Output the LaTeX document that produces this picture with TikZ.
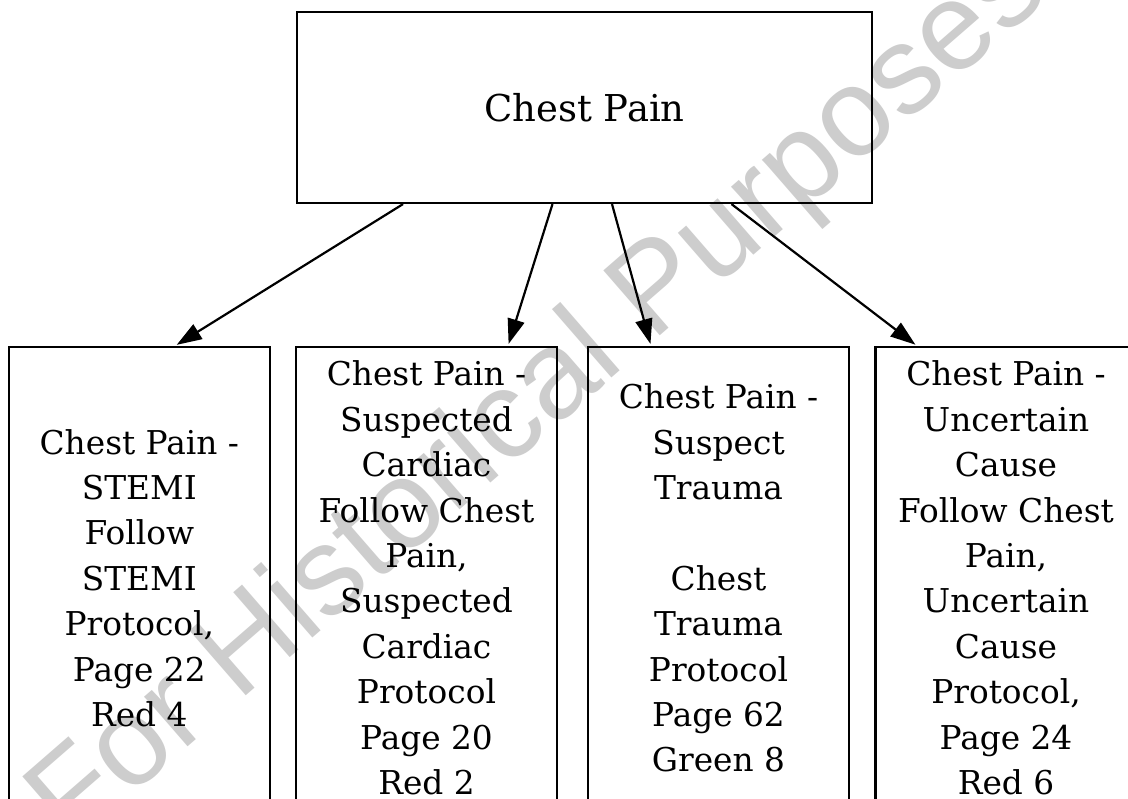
\documentclass[tikz,border=0pt]{standalone}
\usepackage{fontspec}
\setmainfont{DejaVu Serif}
\newfontfamily\wmfont{Liberation Sans}
\usetikzlibrary{arrows.meta,calc}
\definecolor{wmgray}{RGB}{205,205,205}
\tikzset{
  topbox/.style={draw=black, line width=2.2pt, inner sep=0pt, minimum width=575pt, minimum height=191pt, font=\fontsize{37}{44}\selectfont},
  subbox/.style={draw=black, line width=2.2pt, inner sep=0pt, align=center, minimum width=261pt, minimum height=462pt, font=\fontsize{32.8}{45.4}\selectfont},
  link/.style={line width=2.2pt, -{Triangle[length=25pt,width=17pt]}, shorten >=2pt},
  watermark/.style={text=wmgray, font=\wmfont\fontsize{125}{125}\selectfont, rotate=41, inner sep=0pt}
}
\begin{document}
\begin{tikzpicture}[x=1pt,y=-1pt]
\useasboundingbox (0,0) rectangle (1128,799);
\clip (0,0) rectangle (1128,799);
\fill[white] (0,0) rectangle (1128,799);
\node[watermark] (wm) at (540,398) {For Historical Purposes};
\node[topbox] (top) at (584.5,107.5) {Chest Pain};
\node[subbox] (b1) at (139.3,578) {Chest Pain -\\STEMI\\Follow\\STEMI\\Protocol,\\Page 22\\Red 4};
\node[subbox] (b2) at (426.5,578) {Chest Pain -\\Suspected\\Cardiac\\Follow Chest\\Pain,\\Suspected\\Cardiac\\Protocol\\Page 20\\Red 2};
\node[subbox] (b3) at (718.5,578) {Chest Pain -\\Suspect\\Trauma\\[45.4pt]Chest\\Trauma\\Protocol\\Page 62\\Green 8};
\node[subbox] (b4) at (1006,578) {Chest Pain -\\Uncertain\\Cause\\Follow Chest\\Pain,\\Uncertain\\Cause\\Protocol,\\Page 24\\Red 6};
\draw[link] ([xshift=-181.5pt]top.south) -- ([xshift=35.7pt]b1.north);
\draw[link] ([xshift=-32pt]top.south) -- ([xshift=81.5pt]b2.north);
\draw[link] ([xshift=27.5pt]top.south) -- ([xshift=-67.5pt]b3.north);
\draw[link] ([xshift=147pt]top.south) -- ([xshift=-89pt]b4.north);
\end{tikzpicture}
\end{document}
